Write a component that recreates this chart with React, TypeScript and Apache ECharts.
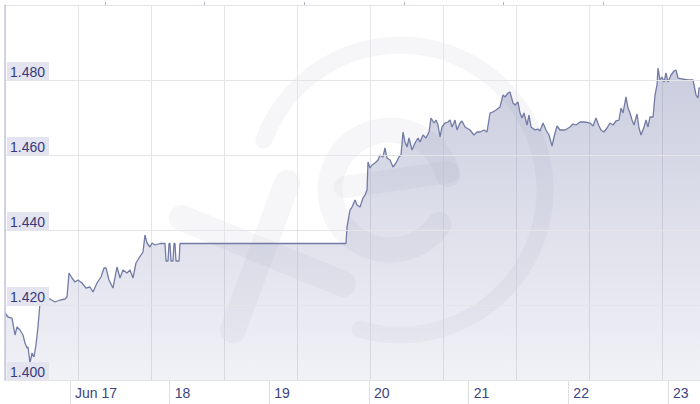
import React, { useEffect, useRef } from 'react';
import * as echarts from 'echarts';

// hours since Jun 17 00:00, and the rate at that moment
const hours = [
  -15.65, -14.93, -13.97, -13.24, -12.76, -12.04, -11.32, -10.84, -10.35, -10.11,
  -9.63, -9.15, -8.67, -8.19, -7.71, -7.22, -6.74, -6.02, -4.82, -3.61,
  -2.41, -1.2, -0.72, -0.24, 0.48, 1.2, 1.93, 2.89, 3.85, 4.82,
  5.54, 6.5, 7.46, 8.19, 8.67, 9.39, 10.35, 11.32, 12.04, 12.76,
  13.73, 14.45, 15.17, 15.89, 16.62, 17.58, 18.06, 18.54, 19.26, 19.75,
  20.47, 21.67, 22.88, 23.12, 23.6, 23.84, 24.08, 24.32, 24.8, 25.04,
  25.28, 25.52, 26.25, 26.49, 66.46, 66.7, 67.42, 67.91, 68.63, 69.11,
  69.83, 70.55, 71.04, 71.52, 71.76, 72.24, 72.72, 73.44, 74.17, 74.65,
  75.37, 75.85, 76.33, 77.06, 77.78, 78.5, 79.22, 79.7, 80.19, 80.67,
  81.15, 81.63, 82.35, 83.08, 83.8, 84.28, 85.0, 85.72, 86.45, 86.93,
  87.65, 88.13, 88.61, 89.1, 89.58, 90.3, 91.02, 91.5, 91.99, 92.71,
  93.19, 93.91, 94.39, 95.12, 96.32, 97.28, 98.01, 98.73, 99.69, 100.41,
  101.14, 101.86, 102.58, 103.54, 104.27, 104.75, 105.47, 105.95, 106.67, 107.16,
  107.88, 108.36, 108.84, 109.32, 110.05, 110.53, 111.01, 111.97, 112.69, 113.18,
  113.9, 114.62, 115.34, 116.07, 116.55, 117.27, 117.99, 119.2, 120.4, 121.12,
  121.84, 122.81, 124.01, 125.22, 125.94, 126.66, 127.38, 127.86, 128.59, 129.31,
  130.03, 130.75, 131.48, 132.2, 132.68, 133.16, 133.88, 134.37, 134.85, 135.33,
  135.81, 136.53, 137.02, 137.5, 138.22, 138.7, 139.18, 139.66, 140.39, 140.87,
  141.35, 141.59, 142.07, 142.55, 143.04, 143.52, 144.0, 144.72, 145.44, 145.92,
  146.41, 147.37, 148.81, 150.02, 150.74, 151.22, 151.46, 151.7,
];

const rates = [
  1.41787, 1.4168, 1.41653, 1.412, 1.41413, 1.41333, 1.412, 1.40987, 1.40853, 1.4088,
  1.40453, 1.4072, 1.40613, 1.40933, 1.41413, 1.42053, 1.42347, 1.42213, 1.4216, 1.4208,
  1.42133, 1.4216, 1.42213, 1.42853, 1.4272, 1.42613, 1.42667, 1.42587, 1.42453, 1.4248,
  1.42347, 1.42587, 1.42747, 1.42987, 1.42987, 1.42667, 1.42453, 1.43013, 1.4272, 1.42933,
  1.42853, 1.42933, 1.4272, 1.4312, 1.43253, 1.43413, 1.43867, 1.43653, 1.43547, 1.43653,
  1.436, 1.4364, 1.4364, 1.43173, 1.43173, 1.4364, 1.4364, 1.43173, 1.43173, 1.4364,
  1.4364, 1.43173, 1.43173, 1.4364, 1.4364, 1.4408, 1.44533, 1.44613, 1.448, 1.44667,
  1.44613, 1.44853, 1.44933, 1.45067, 1.45813, 1.45653, 1.45733, 1.45787, 1.45867, 1.46,
  1.45947, 1.46187, 1.4592, 1.45867, 1.4568, 1.45787, 1.45947, 1.46, 1.46613, 1.46347,
  1.46213, 1.46453, 1.46133, 1.4632, 1.46453, 1.46347, 1.46533, 1.46453, 1.46613, 1.46987,
  1.46853, 1.46933, 1.468, 1.4648, 1.46747, 1.46853, 1.4688, 1.46933, 1.46747, 1.46933,
  1.46667, 1.46853, 1.46907, 1.46747, 1.46667, 1.46533, 1.46613, 1.46613, 1.46667, 1.46613,
  1.4712, 1.47147, 1.472, 1.4728, 1.476, 1.47547, 1.47653, 1.4768, 1.47387, 1.47333,
  1.47413, 1.4712, 1.46987, 1.4712, 1.468, 1.47067, 1.46747, 1.46667, 1.46693, 1.4664,
  1.46853, 1.46667, 1.46533, 1.4624, 1.4648, 1.46773, 1.46667, 1.46667, 1.46747, 1.46827,
  1.468, 1.4688, 1.4688, 1.46853, 1.46773, 1.46987, 1.46773, 1.46667, 1.46613, 1.4672,
  1.46853, 1.468, 1.46907, 1.46933, 1.47253, 1.4712, 1.47547, 1.47253, 1.4712, 1.46933,
  1.468, 1.47093, 1.4672, 1.46533, 1.46747, 1.46933, 1.46747, 1.47013, 1.47013, 1.476,
  1.47867, 1.4832, 1.48, 1.4808, 1.47947, 1.48187, 1.47947, 1.48133, 1.4824, 1.48267,
  1.48053, 1.48027, 1.48, 1.48, 1.476, 1.4752, 1.47787, 1.47787,
];

const dayHours = [0, 24, 48, 72, 96, 120, 144];
const dayLabels = ['Jun 17', '18', '19', '20', '21', '22', '23'];
const minorHours = [8.4, 32.4, 56.4, 80.4, 104.4, 128.4];

const FONT = 'Arial, "Liberation Sans", sans-serif';
const MARK = '#d6d6e0';
const MARK_OPACITY = 0.22;

const App = () => {
  const chartRef = useRef<HTMLDivElement>(null);

  useEffect(() => {
    const chart = echarts.init(chartRef.current, null, { renderer: 'svg' });
    const points = hours.map((h, i) => [h, rates[i]]);
    const deg = Math.PI / 180;

    chart.setOption({
      animation: false,
      grid: { left: 5, right: 0, top: 5, bottom: 24 },
      xAxis: [
        {
          type: 'value',
          min: -15.65,
          max: 151.7,
          axisLine: { show: true, onZero: false, lineStyle: { color: '#c5c7db', width: 1 } },
          axisTick: {
            show: true,
            customValues: dayHours,
            length: 25,
            lineStyle: { color: '#dedee2' },
          },
          axisLabel: {
            customValues: dayHours,
            formatter: (v: number) => dayLabels[dayHours.indexOf(v)] ?? '',
            align: 'left',
            padding: [0, 0, 0, 5],
            margin: 6,
            color: '#3d4282',
            fontSize: 14,
            fontFamily: FONT,
          },
          splitLine: { show: false },
        },
        {
          type: 'value',
          min: -15.65,
          max: 151.7,
          axisLine: { show: false, onZero: false },
          axisTick: {
            show: true,
            customValues: minorHours,
            length: 3,
            lineStyle: { color: '#b0b2c4' },
          },
          axisLabel: { show: false },
          splitLine: { show: false },
        },
        {
          type: 'value',
          min: 0,
          max: 695,
          interval: 73,
          axisLine: { show: false, onZero: false },
          axisTick: { show: false },
          axisLabel: { show: false },
          splitLine: { show: true, lineStyle: { color: '#e5e5e9', width: 1 } },
        },
      ],
      yAxis: {
        type: 'value',
        min: 1.4,
        max: 1.5,
        interval: 0.02,
        z: 6,
        axisLine: { show: true, onZero: false, lineStyle: { color: '#c5c7db', width: 1.5 } },
        axisTick: { show: false },
        axisLabel: {
          inside: true,
          showMaxLabel: false,
          showMinLabel: true,
          formatter: (v: number) => v.toFixed(3),
          verticalAlign: 'bottom',
          backgroundColor: '#e4e4f0',
          padding: [3, 4, 1, 3],
          margin: 2,
          color: '#363a7a',
          fontSize: 14,
          fontFamily: FONT,
        },
        splitLine: { show: true, lineStyle: { color: '#e5e5e9', width: 1 } },
      },
      graphic: [
        {
          type: 'group',
          silent: true,
          z: 3,
          children: [
            {
              type: 'arc',
              shape: { cx: 400, cy: 190, r: 145, startAngle: 200 * deg, endAngle: 466 * deg, clockwise: true },
              style: { stroke: MARK, lineWidth: 17, fill: null, lineCap: 'round', opacity: MARK_OPACITY },
            },
            {
              type: 'arc',
              shape: { cx: 390, cy: 190, r: 60, startAngle: 35 * deg, endAngle: 345 * deg, clockwise: true },
              style: { stroke: MARK, lineWidth: 25, fill: null, lineCap: 'round', opacity: MARK_OPACITY },
            },
            {
              type: 'line',
              shape: { x1: 345, y1: 187, x2: 448, y2: 172 },
              style: { stroke: MARK, lineWidth: 22, lineCap: 'round', opacity: MARK_OPACITY },
            },
            {
              type: 'line',
              shape: { x1: 182, y1: 218, x2: 343, y2: 284 },
              style: { stroke: MARK, lineWidth: 26, lineCap: 'round', opacity: MARK_OPACITY },
            },
            {
              type: 'line',
              shape: { x1: 287, y1: 183, x2: 233, y2: 330 },
              style: { stroke: MARK, lineWidth: 26, lineCap: 'round', opacity: MARK_OPACITY },
            },
          ],
        },
      ],
      series: [
        {
          type: 'line',
          z: 2,
          data: points,
          showSymbol: false,
          silent: true,
          lineStyle: { width: 0 },
          areaStyle: {
            opacity: 1,
            color: new echarts.graphic.LinearGradient(0, 0, 0, 1, [
              { offset: 0, color: 'rgba(100,108,160,0.34)' },
              { offset: 1, color: 'rgba(100,108,160,0.09)' },
            ]),
          },
        },
        {
          type: 'line',
          z: 4,
          data: points,
          showSymbol: false,
          silent: true,
          lineStyle: { color: '#737ba5', width: 1.3 },
        },
      ],
    });

    return () => {
      chart.dispose();
    };
  }, []);

  return (
    <div
      ref={chartRef}
      style={{ position: 'fixed', left: 0, top: 0, width: '700px', height: '404px', background: '#fff' }}
    />
  );
};

export default App;
